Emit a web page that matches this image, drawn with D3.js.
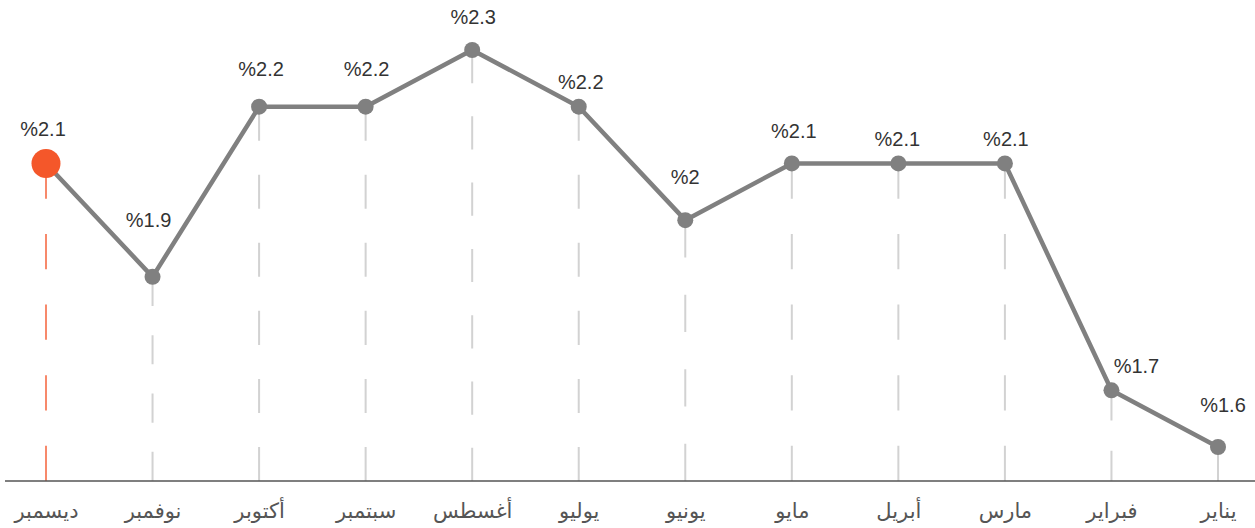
<!DOCTYPE html>
<html>
<head>
<meta charset="utf-8">
<script src="https://cdn.jsdelivr.net/npm/d3@7"></script>
<style>
  html, body { margin: 0; padding: 0; background: #fff; }
  svg { display: block; }
</style>
</head>
<body>
<svg id="chart" width="1255" height="528"></svg>
<script>
// Months, left to right as drawn (right-to-left chronology)
const months = ['ديسمبر','نوفمبر','أكتوبر','سبتمبر','أغسطس','يوليو','يونيو','مايو','أبريل','مارس','فبراير','يناير'];
const values = [2.1, 1.9, 2.2, 2.2, 2.3, 2.2, 2.0, 2.1, 2.1, 2.1, 1.7, 1.6];
const labels = ['%2.1','%1.9','%2.2','%2.2','%2.3','%2.2','%2','%2.1','%2.1','%2.1','%1.7','%1.6'];
const highlightIndex = 0;

// label placement offsets (layout only)
const labelDx = [-3, -4, 2, 1, 1, 2, 0, 2, -1, 1, 25, 5];
const labelDy = [-27, -50, -31, -31, -26, -18, -36, -25, -17, -17, -17, -35];

const W = 1255, H = 528;
const baseY = 481;
const svg = d3.select('#chart');

const x = d3.scalePoint().domain(months).range([46, 1218]);
const y = d3.scaleLinear().domain([1.6, 2.3]).range([447, 50]);

const data = months.map((m, i) => ({ m, v: values[i], label: labels[i], i }));

// dashed drop lines
svg.append('g').selectAll('line').data(data).join('line')
  .attr('x1', d => x(d.m)).attr('x2', d => x(d.m))
  .attr('y1', d => y(d.v)).attr('y2', baseY)
  .attr('stroke', d => d.i === highlightIndex ? '#f7896b' : '#d2d2d2')
  .attr('stroke-width', 2)
  .attr('stroke-dasharray', d => {
    const len = baseY - y(d.v);
    let n = Math.floor(len / 29);
    if (n % 2 === 0) n -= 1;
    if (n < 1) n = 1;
    const seg = len / n;
    return n === 1 ? null : seg + ',' + seg;
  });

// baseline axis
const axis = d3.axisBottom(x).tickSize(0).tickPadding(0);
const gAxis = svg.append('g').attr('transform', `translate(0,${baseY})`).call(axis);
gAxis.select('.domain').remove();
gAxis.selectAll('text')
  .attr('y', 37)
  .attr('dy', null)
  .attr('font-family', '"DejaVu Sans", sans-serif')
  .attr('font-size', 21)
  .attr('fill', '#555')
  .attr('direction', 'rtl')
  .attr('text-anchor', 'middle');
svg.append('line')
  .attr('x1', 5).attr('x2', W).attr('y1', baseY).attr('y2', baseY)
  .attr('stroke', '#555').attr('stroke-width', 1.5);

// line
const line = d3.line().x(d => x(d.m)).y(d => y(d.v));
svg.append('path').datum(data)
  .attr('d', line)
  .attr('fill', 'none')
  .attr('stroke', '#808080')
  .attr('stroke-width', 4.5)
  .attr('stroke-linejoin', 'round');

// points
svg.append('g').selectAll('circle').data(data).join('circle')
  .attr('cx', d => x(d.m)).attr('cy', d => y(d.v))
  .attr('r', d => d.i === highlightIndex ? 14.5 : 8)
  .attr('fill', d => d.i === highlightIndex ? '#f4572a' : '#808080');

// value labels
svg.append('g').selectAll('text').data(data).join('text')
  .attr('x', d => x(d.m) + labelDx[d.i])
  .attr('y', d => y(d.v) + labelDy[d.i])
  .attr('text-anchor', 'middle')
  .attr('direction', 'ltr')
  .attr('font-family', '"Liberation Sans", Arial, sans-serif')
  .attr('font-size', 20)
  .attr('fill', '#333')
  .text(d => d.label);
</script>
</body>
</html>
